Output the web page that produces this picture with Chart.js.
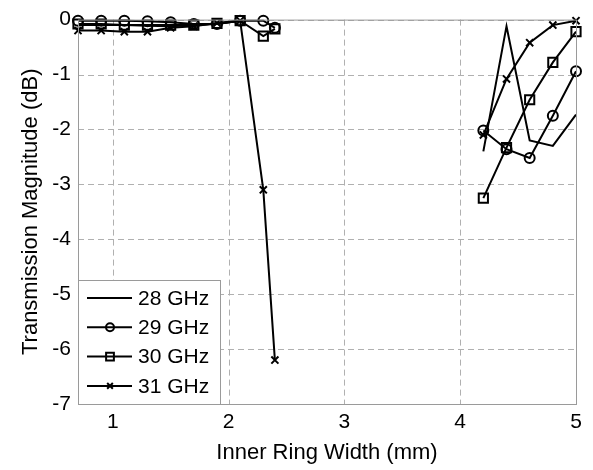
<!DOCTYPE html>
<html>
  <head>
    <title>Transmission Magnitude</title>
    <script src="https://cdn.jsdelivr.net/npm/chart.js"></script>
    <style>
      body {
        margin: 0;
        background: #fff;
      }
      .chart-container {
        width: 593px;
        height: 470px;
      }
    </style>
  </head>
  <body>
    <div class="chart-container">
      <canvas id="graph"></canvas>
    </div>
    <script>
      // inner ring width (mm); 3.3 is only a break between the two sweeps
      const widths = [0.7, 0.9, 1.1, 1.3, 1.5, 1.7, 1.9, 2.1, 2.3, 2.4, 3.3, 4.2, 4.4, 4.6, 4.8, 5.0];
      const ghz28 = [-0.1, -0.1, -0.1, -0.11, -0.12, -0.1, -0.08, -0.02, null, null, null, -2.4, -0.12, -2.2, -2.3, -1.73];
      const ghz29 = [-0.02, -0.02, -0.02, -0.03, -0.05, -0.08, -0.08, -0.02, -0.02, -0.15, null, -2.02, -2.36, -2.52, -1.75, -0.94];
      const ghz30 = [-0.08, -0.08, -0.1, -0.1, -0.1, -0.1, -0.07, -0.02, -0.3, -0.17, null, -3.25, -2.33, -1.46, -0.78, -0.22];
      const ghz31 = [-0.2, -0.2, -0.22, -0.22, -0.15, -0.12, -0.06, -0.02, -3.1, -6.2, null, -2.1, -1.08, -0.42, -0.1, -0.02];
      const xTicks = [1, 2, 3, 4, 5];
      const yTicks = [-7, -6, -5, -4, -3, -2, -1, 0];
      const seriesNames = ["28 GHz", "29 GHz", "30 GHz", "31 GHz"];
      const markers = [false, "circle", "rect", "crossRot"];

      const FONT = "'Liberation Sans', Arial, sans-serif";

      function pts(values) {
        return values.map((v, i) => ({ x: widths[i], y: v }));
      }

      function makeSet(name, values, marker) {
        return {
          label: name,
          data: pts(values),
          borderColor: "#000",
          backgroundColor: "rgba(0,0,0,0)",
          borderWidth: 2,
          pointStyle: marker,
          pointRadius: marker ? (marker === "rect" ? 6.5 : 5) : 0,
          pointBorderWidth: 2,
          pointBorderColor: "#000",
          pointBackgroundColor: "rgba(0,0,0,0)",
          spanGaps: false,
          tension: 0,
          clip: false,
        };
      }

      // dashed grid at the scale ticks (matlab style)
      const dashedGrid = {
        id: "dashedGrid",
        beforeDatasetsDraw(chart) {
          const ctx = chart.ctx;
          const a = chart.chartArea;
          const sx = chart.scales.x;
          const sy = chart.scales.y;
          ctx.save();
          ctx.strokeStyle = "#b0b0b0";
          ctx.lineWidth = 1;
          ctx.setLineDash([6, 4]);
          xTicks.forEach((v) => {
            const px = Math.round(sx.getPixelForValue(v)) + 0.5;
            ctx.beginPath();
            ctx.moveTo(px, a.top);
            ctx.lineTo(px, a.bottom);
            ctx.stroke();
          });
          yTicks.forEach((v) => {
            const py = Math.round(sy.getPixelForValue(v)) + 0.5;
            ctx.beginPath();
            ctx.moveTo(a.left, py);
            ctx.lineTo(a.right, py);
            ctx.stroke();
          });
          ctx.restore();
        },
      };

      // box round the plot area and legend inside it (bottom left)
      const boxAndLegend = {
        id: "boxAndLegend",
        afterDraw(chart) {
          const ctx = chart.ctx;
          const a = chart.chartArea;
          ctx.save();
          ctx.strokeStyle = "#9a9a9a";
          ctx.lineWidth = 1;
          ctx.setLineDash([]);
          ctx.strokeRect(a.left + 0.5, a.top + 0.5, a.right - a.left, a.bottom - a.top);

          const lx = a.left, ly = 280, lw = 142, lh = a.bottom - 280;
          ctx.fillStyle = "#fff";
          ctx.fillRect(lx, ly, lw, lh);
          ctx.strokeRect(lx + 0.5, ly + 0.5, lw, lh);

          ctx.font = "21px " + FONT;
          ctx.textBaseline = "middle";
          ctx.textAlign = "left";
          seriesNames.forEach((name, i) => {
            const y = 298 + i * 29.3;
            ctx.strokeStyle = "#000";
            ctx.lineWidth = 2;
            ctx.beginPath();
            ctx.moveTo(87, y);
            ctx.lineTo(132, y);
            ctx.stroke();
            if (markers[i]) {
              ctx.fillStyle = "rgba(0,0,0,0)";
              Chart.helpers.drawPoint(ctx, {
                pointStyle: markers[i],
                radius: markers[i] === "rect" ? 5.5 : 4,
                borderWidth: 1.6,
              }, 110, y);
            }
            ctx.fillStyle = "#000";
            ctx.fillText(name, 138, y + 1);
          });
          ctx.restore();
        },
      };

      const ctx = document.getElementById("graph").getContext("2d");
      new Chart(ctx, {
        type: "line",
        data: {
          datasets: [
            makeSet(seriesNames[0], ghz28, markers[0]),
            makeSet(seriesNames[1], ghz29, markers[1]),
            makeSet(seriesNames[2], ghz30, markers[2]),
            makeSet(seriesNames[3], ghz31, markers[3]),
          ],
        },
        options: {
          responsive: true,
          maintainAspectRatio: false,
          animation: false,
          layout: { padding: { left: 0, right: 17, top: 16, bottom: 0 } },
          plugins: {
            legend: { display: false },
            tooltip: { enabled: false },
          },
          scales: {
            x: {
              type: "linear",
              min: 0.7,
              max: 5,
              afterBuildTicks: (s) => {
                s.ticks = xTicks.map((v) => ({ value: v }));
              },
              afterFit: (s) => {
                s.height = 66;
              },
              grid: { display: false, drawTicks: false },
              border: { display: false },
              ticks: {
                color: "#000",
                padding: 6,
                maxRotation: 0,
                font: { family: FONT, size: 21 },
              },
              title: {
                display: true,
                text: "Inner Ring Width (mm)",
                color: "#000",
                font: { family: FONT, size: 22 },
                padding: { top: 0, bottom: 4 },
              },
            },
            y: {
              min: -7,
              max: 0,
              afterBuildTicks: (s) => {
                s.ticks = yTicks.map((v) => ({ value: v }));
              },
              afterFit: (s) => {
                s.width = 78;
              },
              grid: { display: false, drawTicks: false },
              border: { display: false },
              ticks: {
                color: "#000",
                padding: 7,
                font: { family: FONT, size: 21 },
              },
              title: {
                display: true,
                text: "Transmission Magnitude (dB)",
                color: "#000",
                font: { family: FONT, size: 22 },
                padding: { top: 18, bottom: 0 },
              },
            },
          },
        },
        plugins: [dashedGrid, boxAndLegend],
      });
    </script>
  </body>
</html>
